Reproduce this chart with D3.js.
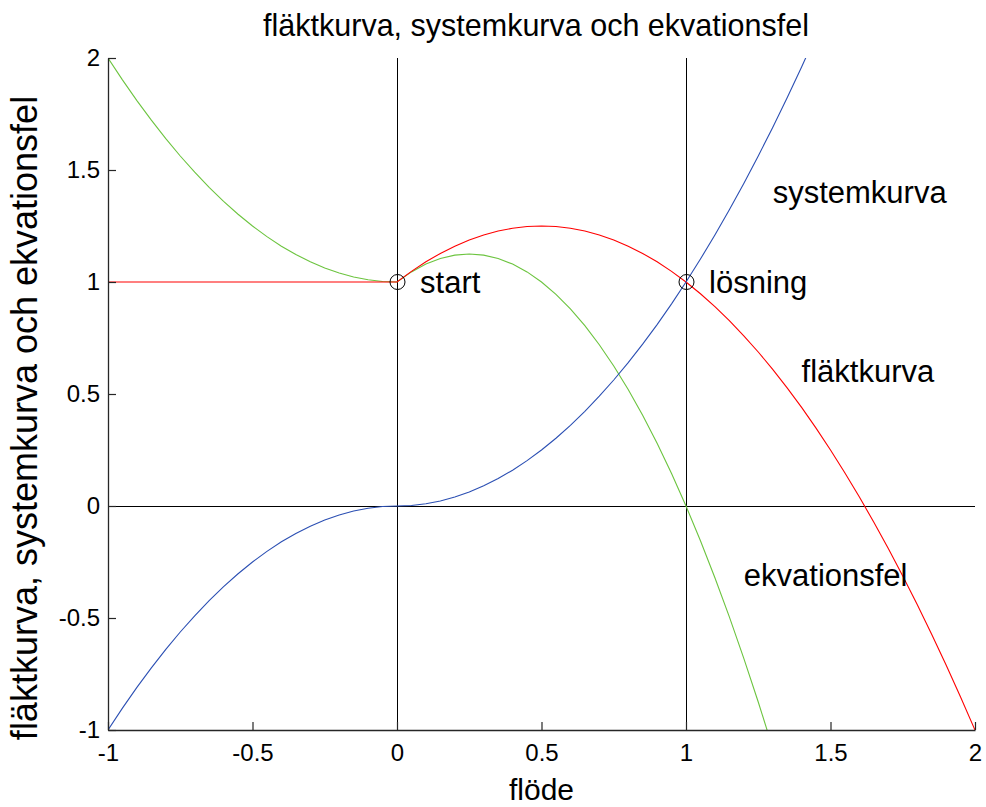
<!DOCTYPE html>
<html>
<head>
<meta charset="utf-8">
<script src="https://cdn.jsdelivr.net/npm/d3@7"></script>
<style>
  body { margin: 0; background: #fff; }
  text { font-family: "Liberation Sans", Arial, Helvetica, sans-serif; fill: #000; }
</style>
</head>
<body>
<svg id="chart" width="986" height="807"></svg>
<script>
// Flow values (x) and the three curves sampled at those flows
const flow = [
  -1.00, -0.95, -0.90, -0.85, -0.80, -0.75, -0.70, -0.65, -0.60, -0.55,
  -0.50, -0.45, -0.40, -0.35, -0.30, -0.25, -0.20, -0.15, -0.10, -0.05,
   0.00,  0.05,  0.10,  0.15,  0.20,  0.25,  0.30,  0.35,  0.40,  0.45,
   0.50,  0.55,  0.60,  0.65,  0.70,  0.75,  0.80,  0.85,  0.90,  0.95,
   1.00,  1.05,  1.10,  1.15,  1.20,  1.25,  1.30,  1.35,  1.40,  1.45,
   1.50,  1.55,  1.60,  1.65,  1.70,  1.75,  1.80,  1.85,  1.90,  1.95,
   2.00
];

// fläktkurva
const fanCurve = [
  1, 1, 1, 1, 1, 1, 1, 1, 1, 1,
  1, 1, 1, 1, 1, 1, 1, 1, 1, 1,
  1, 1.0475, 1.09, 1.1275, 1.16, 1.1875, 1.21, 1.2275, 1.24, 1.2475,
  1.25, 1.2475, 1.24, 1.2275, 1.21, 1.1875, 1.16, 1.1275, 1.09, 1.0475,
  1, 0.9475, 0.89, 0.8275, 0.76, 0.6875, 0.61, 0.5275, 0.44, 0.3475,
  0.25, 0.1475, 0.04, -0.0725, -0.19, -0.3125, -0.44, -0.5725, -0.71, -0.8525,
  -1
];

// systemkurva
const systemCurve = [
  -1, -0.9025, -0.81, -0.7225, -0.64, -0.5625, -0.49, -0.4225, -0.36, -0.3025,
  -0.25, -0.2025, -0.16, -0.1225, -0.09, -0.0625, -0.04, -0.0225, -0.01, -0.0025,
  0, 0.0025, 0.01, 0.0225, 0.04, 0.0625, 0.09, 0.1225, 0.16, 0.2025,
  0.25, 0.3025, 0.36, 0.4225, 0.49, 0.5625, 0.64, 0.7225, 0.81, 0.9025,
  1, 1.1025, 1.21, 1.3225, 1.44, 1.5625, 1.69, 1.8225, 1.96, 2.1025,
  2.25, 2.4025, 2.56, 2.7225, 2.89, 3.0625, 3.24, 3.4225, 3.61, 3.8025,
  4
];

// ekvationsfel
const equationError = [
  2, 1.9025, 1.81, 1.7225, 1.64, 1.5625, 1.49, 1.4225, 1.36, 1.3025,
  1.25, 1.2025, 1.16, 1.1225, 1.09, 1.0625, 1.04, 1.0225, 1.01, 1.0025,
  1, 1.045, 1.08, 1.105, 1.12, 1.125, 1.12, 1.105, 1.08, 1.045,
  1, 0.945, 0.88, 0.805, 0.72, 0.625, 0.52, 0.405, 0.28, 0.145,
  0, -0.155, -0.32, -0.495, -0.68, -0.875, -1.08, -1.295, -1.52, -1.755,
  -2, -2.255, -2.52, -2.795, -3.08, -3.375, -3.68, -3.995, -4.32, -4.655,
  -5
];

const xTicks = [-1, -0.5, 0, 0.5, 1, 1.5, 2];
const xTickLabels = ["-1", "-0.5", "0", "0.5", "1", "1.5", "2"];
const yTicks = [-1, -0.5, 0, 0.5, 1, 1.5, 2];
const yTickLabels = ["-1", "-0.5", "0", "0.5", "1", "1.5", "2"];

// Marked points (start guess and solution) and their labels
const markerX = [0, 1];
const markerY = [1, 1];
const labelText = ["start", "lösning", "systemkurva", "fläktkurva", "ekvationsfel"];
const labelX = [0.08, 1.08, 1.30, 1.40, 1.20];
const labelY = [1.00, 1.00, 1.40, 0.60, -0.31];

const titleText = "fläktkurva, systemkurva och ekvationsfel";
const xLabelText = "flöde";
const yLabelText = "fläktkurva, systemkurva och ekvationsfel";

const colors = { fan: "#ff0000", system: "#2b4fb3", error: "#6cc43f", axis: "#262626" };

const margin = { left: 108, top: 58, right: 11, bottom: 77 };
const W = 986, H = 807;
const innerW = W - margin.left - margin.right;
const innerH = H - margin.top - margin.bottom;

const svg = d3.select("#chart");
const g = svg.append("g").attr("transform", `translate(${margin.left},${margin.top})`);

const x = d3.scaleLinear().domain([-1, 2]).range([0, innerW]);
const y = d3.scaleLinear().domain([-1, 2]).range([innerH, 0]);

svg.append("defs").append("clipPath").attr("id", "plotClip")
  .append("rect").attr("x", 0).attr("y", 0).attr("width", innerW).attr("height", innerH);

const plot = g.append("g").attr("clip-path", "url(#plotClip)");

// Reference lines x = 0, x = 1, y = 0
[0, 1].forEach(v => {
  plot.append("line")
    .attr("x1", x(v) + 0.5).attr("x2", x(v) + 0.5)
    .attr("y1", y(-1)).attr("y2", y(2))
    .attr("stroke", "#000").attr("stroke-width", 1);
});
plot.append("line")
  .attr("x1", x(-1)).attr("x2", x(2))
  .attr("y1", y(0) + 0.5).attr("y2", y(0) + 0.5)
  .attr("stroke", "#000").attr("stroke-width", 1);

// Curves
const series = [
  { values: equationError, color: colors.error },
  { values: fanCurve, color: colors.fan },
  { values: systemCurve, color: colors.system }
];
const line = d3.line().x(d => x(d[0])).y(d => y(d[1]));
series.forEach(s => {
  plot.append("path")
    .datum(flow.map((f, i) => [f, s.values[i]]))
    .attr("d", line)
    .attr("fill", "none")
    .attr("stroke", s.color)
    .attr("stroke-width", 1.1);
});

// Circles at the start point and the solution
g.selectAll("circle.marker")
  .data(markerX.map((mx, i) => [mx, markerY[i]]))
  .join("circle")
  .attr("class", "marker")
  .attr("cx", d => x(d[0]) + 0.5)
  .attr("cy", d => y(d[1]))
  .attr("r", 7.5)
  .attr("fill", "none")
  .attr("stroke", "#000")
  .attr("stroke-width", 1);

// Curve / point labels
g.selectAll("text.annot")
  .data(labelText.map((t, i) => ({ t, x: labelX[i], y: labelY[i] })))
  .join("text")
  .attr("class", "annot")
  .attr("x", d => x(d.x))
  .attr("y", d => y(d.y))
  .attr("dy", "0.35em")
  .style("font-size", "31px")
  .text(d => d.t);

// Axes (left and bottom only, inward ticks)
const xAxis = d3.axisBottom(x)
  .tickValues(xTicks)
  .tickFormat((d, i) => xTickLabels[i])
  .tickSizeInner(-8).tickSizeOuter(0).tickPadding(14);
const yAxis = d3.axisLeft(y)
  .tickValues(yTicks)
  .tickFormat((d, i) => yTickLabels[i])
  .tickSizeInner(-8).tickSizeOuter(0).tickPadding(8);

const gx = g.append("g").attr("transform", `translate(0,${innerH})`).call(xAxis);
const gy = g.append("g").call(yAxis);

[gx, gy].forEach(ax => {
  ax.select(".domain").attr("stroke", colors.axis).attr("stroke-width", 1.3);
  ax.selectAll(".tick line").attr("stroke", colors.axis).attr("stroke-width", 1.2);
  ax.selectAll(".tick text")
    .attr("fill", "#000")
    .style("font-family", '"Liberation Sans", Arial, sans-serif')
    .style("font-size", "24px");
});

// Title and axis labels
svg.append("text")
  .attr("x", 536).attr("y", 36)
  .attr("text-anchor", "middle")
  .style("font-size", "30.5px")
  .text(titleText);

svg.append("text")
  .attr("x", margin.left + innerW / 2).attr("y", 800)
  .attr("text-anchor", "middle")
  .style("font-size", "30px")
  .text(xLabelText);

svg.append("text")
  .attr("transform", `translate(37,${margin.top + innerH / 2 + 24}) rotate(-90)`)
  .attr("text-anchor", "middle")
  .style("font-size", "36px")
  .text(yLabelText);
</script>
</body>
</html>
